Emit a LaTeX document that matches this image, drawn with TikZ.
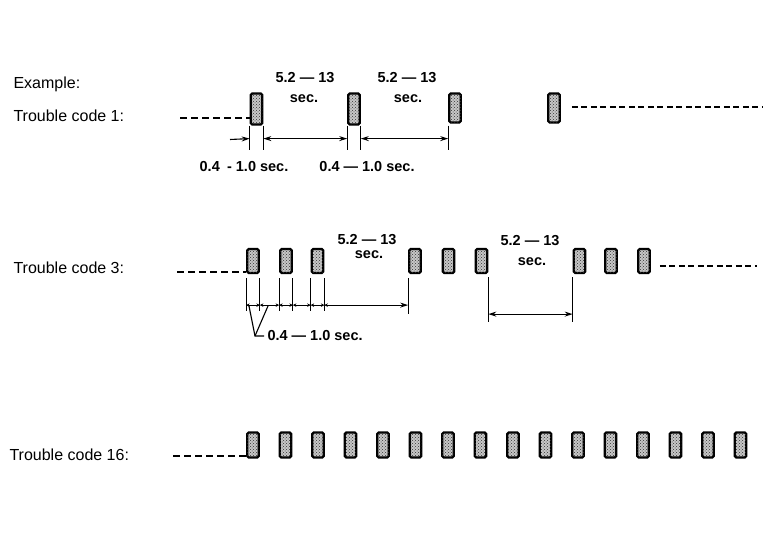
\documentclass[tikz,border=0pt]{standalone}
\usepackage{fontspec}
\setmainfont{Liberation Sans}
\usetikzlibrary{arrows.meta,patterns}
\tikzset{
  pulse/.style={draw=black, line width=2.2pt, rounded corners=1.5pt,
    fill=black!22, postaction={pattern=crosshatch dots, pattern color=black!80},
    inner sep=0pt, minimum width=11.5pt, minimum height=#1},
  pulse/.default={24pt},
  rowlabel/.style={anchor=west, font=\fontsize{16}{18}\selectfont},
  dimlabel/.style={font=\fontsize{14.5}{16}\selectfont\bfseries},
  tick/.style={line width=1.1pt},
  dimarr/.style={line width=1.1pt, {Stealth[length=8pt,width=5pt]}-{Stealth[length=8pt,width=5pt]}},
  smallarr/.style={line width=1.1pt, {Stealth[length=3.5pt,width=3.5pt]}-{Stealth[length=3.5pt,width=3.5pt]}},
  idle/.style={line width=1.6pt, dash pattern=on 7pt off 4pt},
  idlefine/.style={line width=1.6pt, dash pattern=on 6pt off 3.5pt},
}
\begin{document}
\begin{tikzpicture}[x=1pt, y=-1pt]
  \useasboundingbox (0,0) rectangle (770,535);

  % trouble code 1
  \node[rowlabel] (ex) at (10,84) {Example:};
  \node[rowlabel] (tc1) at (10,116) {Trouble code 1:};
  \node[pulse=31pt] (p1) at (256.5,109) {};
  \node[pulse=31pt] (p2) at (354,109) {};
  \node[pulse=29pt] (p3) at (455,108) {};
  \node[pulse=29pt] (p4) at (554,108) {};
  \coordinate (i1a) at (180,118);
  \draw[idle] (i1a) -- (p1.west |- i1a);
  \coordinate (i1b) at (763,107);
  \draw[idlefine] (p4.east |- i1b) ++(11,0) -- (i1b);
  \foreach \n in {p1,p2} {
    \draw[tick] (\n.south west) -- ++(0,13) coordinate (\n-l) -- ++(0,11);
    \draw[tick] (\n.south east) -- ++(0,13) coordinate (\n-r) -- ++(0,11);
  }
  \draw[tick] (p3.south west) ++(0,2) -- (p3.south west |- p2-l) coordinate (p3-l) -- ++(0,11);
  \coordinate (d0) at (230,139.5);
  \draw[line width=1.1pt, -{Stealth[length=8pt,width=5pt]}] (d0) -- (p1-l);
  \draw[dimarr] (p1-r) -- (p2-l);
  \draw[dimarr] (p2-r) -- (p3-l);
  \node[dimlabel] (w1) at (305,78) {5.2 --- 13};
  \node[dimlabel] (w1s) at (304,99) {sec.};
  \node[dimlabel] (w2) at (407,78) {5.2 --- 13};
  \node[dimlabel] (w2s) at (408,99) {sec.};
  \node[dimlabel] (g1) at (244,167) {0.4\enspace - 1.0 sec.};
  \node[dimlabel] (g2) at (367,167) {0.4 --- 1.0 sec.};

  % trouble code 3
  \node[rowlabel] (tc3) at (10,268) {Trouble code 3:};
  \foreach \x [count=\i] in {253,286,317.5,415,448.5,481.5,579.5,611,644}
    \node[pulse] (q\i) at (\x,261) {};
  \coordinate (i3a) at (177,272);
  \draw[idle] (i3a) -- (q1.west |- i3a);
  \coordinate (i3b) at (757,266);
  \draw[idlefine] (q9.east |- i3b) ++(9,0) -- (i3b);
  \foreach \n in {q1,q2,q3} {
    \draw[tick] (\n.south west) ++(0,4) -- ++(0,27) coordinate (\n-l) -- ++(0,6);
    \draw[tick] (\n.south east) ++(0,4) -- ++(0,27) coordinate (\n-r) -- ++(0,6);
  }
  \draw[tick] (q4.south west) ++(0,4) -- ++(0,27) coordinate (q4-l) -- ++(0,9);
  \draw[smallarr] (q1-l) -- (q1-r);
  \draw[smallarr] (q1-r) -- (q2-l);
  \draw[smallarr] (q2-l) -- (q2-r);
  \draw[smallarr] (q2-r) -- (q3-l);
  \draw[smallarr] (q3-l) -- (q3-r);
  \draw[line width=1.1pt, {Stealth[length=3.5pt,width=3.5pt]}-{Stealth[length=8pt,width=5pt]}] (q3-r) -- (q4-l);
  \coordinate (k1) at (249,306);
  \coordinate (k2) at (268,306);
  \coordinate (kc) at (255,336);
  \draw[tick] (k1) -- (kc) -- ++(9,0) coordinate (ke);
  \draw[tick] (k2) -- (kc);
  \node[dimlabel, anchor=west] (g3) at (ke) {0.4 --- 1.0 sec.};
  \draw[tick] (q6.south east) ++(0,3) -- ++(0,37) coordinate (q6-r) -- ++(0,8);
  \draw[tick] (q7.south west) ++(0,3) -- ++(0,37) coordinate (q7-l) -- ++(0,8);
  \draw[dimarr] (q6-r) -- (q7-l);
  \node[dimlabel] (w3) at (367,240) {5.2 --- 13};
  \node[dimlabel] (w3s) at (369,255) {sec.};
  \node[dimlabel] (w4) at (530,241) {5.2 --- 13};
  \node[dimlabel] (w4s) at (532,262) {sec.};

  % trouble code 16
  \node[rowlabel] (tc16) at (6,455) {Trouble code 16:};
  \foreach \i in {0,...,15}
    \node[pulse=25pt] (r\i) at (253+32.5*\i,445) {};
  \coordinate (i16) at (173,456);
  \draw[idle] (i16) -- (r0.west |- i16);
\end{tikzpicture}
\end{document}
